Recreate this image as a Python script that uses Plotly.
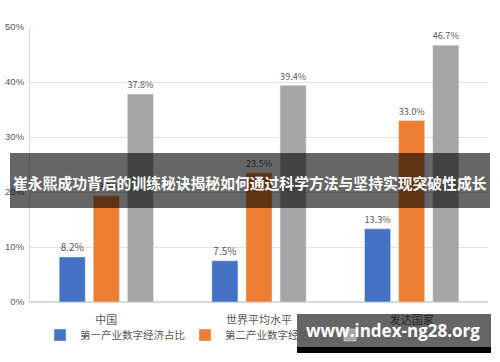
import plotly.graph_objects as go

categories = ["中国", "世界平均水平", "发达国家"]
series_names = ["第一产业数字经济占比", "第二产业数字经估计占比", "第三产业数字经济占比"]
primary = [8.2, 7.5, 13.3]
secondary = [19.3, 23.5, 33.0]
tertiary = [37.8, 39.4, 46.7]
colors = ["#4472C4", "#ED7D31", "#A5A5A5"]
y_ticks = [0, 10, 20, 30, 40, 50]
y_tick_labels = ["0%", "10%", "20%", "30%", "40%", "50%"]
banner_text = "崔永熙成功背后的训练秘诀揭秘如何通过科学方法与坚持实现突破性成长"
watermark_text = "www.index-ng28.org"

font_cjk = "Noto Sans CJK SC"

fig = go.Figure()
for name, vals, col in zip(series_names, [primary, secondary, tertiary], colors):
    fig.add_trace(go.Bar(
        x=categories, y=vals, name=name, marker_color=col,
        text=[f"{v:.1f}%" for v in vals], textposition="outside",
        textfont=dict(size=10, color="#595959", family=font_cjk),
        cliponaxis=False, hoverinfo="skip",
    ))

L, R, T, B = 30, 12, 27, 60
W, H = 500, 362
pw, ph = W - L - R, H - T - B

def px(x):
    return (x - L) / pw

def py(y):
    return (H - B - y) / ph

fig.update_layout(
    width=W, height=H,
    margin=dict(l=L, r=R, t=T, b=B, autoexpand=False),
    paper_bgcolor="white", plot_bgcolor="white",
    barmode="group", bargap=0.33, bargroupgap=0.235,
    font=dict(family=font_cjk, color="#595959"),
    showlegend=True,
    legend=dict(orientation="h", x=px(40), y=py(335), xanchor="left", yanchor="middle",
                font=dict(size=10.5, color="#595959", family=font_cjk),
                itemwidth=30, entrywidth=100, entrywidthmode="pixels",
                tracegroupgap=0, bgcolor="rgba(0,0,0,0)"),
    xaxis=dict(showgrid=False, showline=False, automargin=False,
               ticks="outside", ticklen=8, tickcolor="rgba(255,255,255,0)",
               tickfont=dict(size=11, color="#595959")),
    yaxis=dict(range=[0, 50], tickvals=y_ticks, ticktext=y_tick_labels, automargin=False,
               showgrid=True, gridcolor="#e3e3e3", gridwidth=1,
               showline=True, linecolor="#d9d9d9", linewidth=1,
               zeroline=True, zerolinecolor="#d9d9d9", ticklabelstandoff=3,
               tickfont=dict(size=9.5, color="#595959", family="Liberation Sans"), ticks=""),
    shapes=[
        dict(type="rect", xref="paper", yref="paper", layer="above",
             x0=px(10), x1=px(490), y0=py(208), y1=py(153),
             fillcolor="rgba(0,0,0,0.6)", line=dict(width=0)),
        dict(type="rect", xref="paper", yref="paper", layer="above",
             x0=px(297), x1=px(491), y0=py(347), y1=py(314),
             fillcolor="rgba(0,0,0,0.6)", line=dict(width=0)),
        dict(type="rect", xref="paper", yref="paper", layer="above",
             x0=px(297), x1=px(491), y0=py(353), y1=py(347),
             fillcolor="black", line=dict(width=0)),
    ],
    annotations=[
        dict(text=f"<b>{banner_text}</b>", xref="paper", yref="paper",
             x=px(250), y=py(182), xanchor="center", yanchor="middle", showarrow=False,
             font=dict(size=14.8, color="white", family=font_cjk)),
        dict(text=f"<b>{watermark_text}</b>", xref="paper", yref="paper",
             x=px(393), y=py(330), xanchor="center", yanchor="middle", showarrow=False,
             font=dict(size=17, color="white", family="Open Sans")),
    ],
)

fig.write_html("out.html", config={"displayModeBar": False},
               post_script="document.body.style.margin='0';")
